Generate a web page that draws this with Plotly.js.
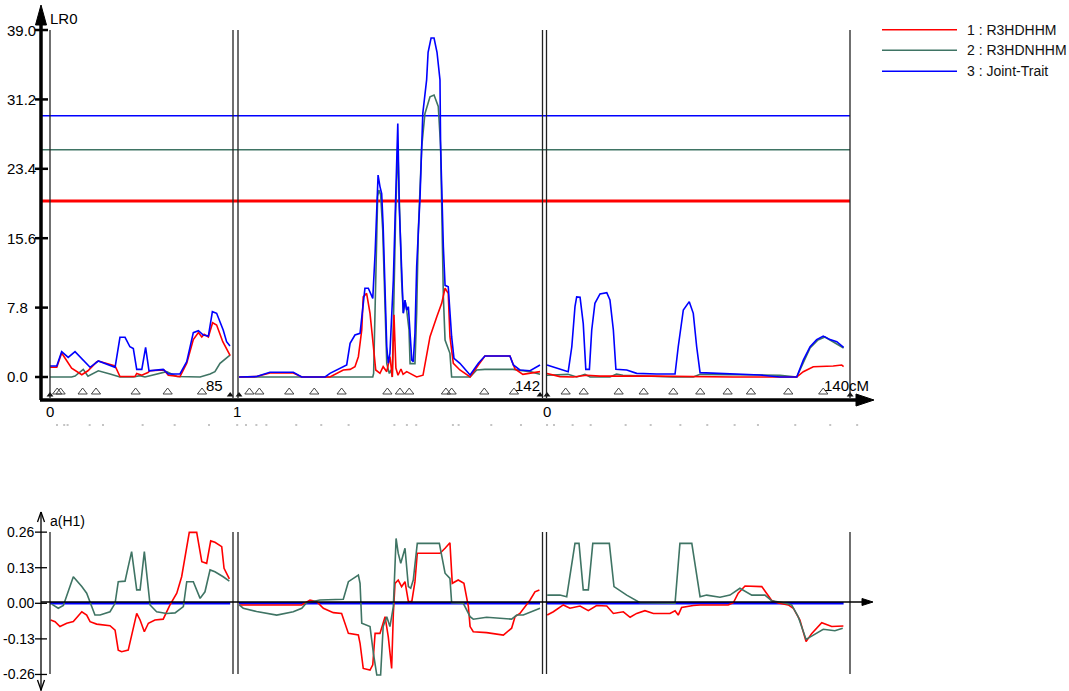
<!DOCTYPE html>
<html><head><meta charset="utf-8">
<script src="https://cdn.plot.ly/plotly-3.0.1.min.js"></script>
<style>html,body{margin:0;padding:0;background:#fff;overflow:hidden}#chart{width:1069px;height:691px}</style>
</head><body><div id="chart"></div>
<script>
// ================= DATA =================
const chromLabels = ['0', '1', '0'];
const chromLength = [85, 142, 140];
const chromEndLabels = ['85', '142', '140cM'];
const traitNames = ['1 : R3HDHHM', '2 : R3HDNHHM', '3 : Joint-Trait'];
const lrTicks = [0.0, 7.8, 15.6, 23.4, 31.2, 39.0];
const lrTickLabels = ['0.0', '7.8', '15.6', '23.4', '31.2', '39.0'];
const effTicks = [-0.26, -0.13, 0, 0.13, 0.26];
const effTickLabels = ['-0.26', '-0.13', '0.00', '0.13', '0.26'];
const lrThresholds = [19.78, 25.55, 29.37];   // trait 1, 2, 3

// marker positions (cM) per chromosome
const markers1 = [0, 3.4, 5.0, 15.4, 21.7, 40.4, 55.5, 71.7, 85];
const markers2 = [0, 4.9, 9.6, 23.7, 35.5, 48.4, 70.0, 75.9, 80.3, 97.6, 100.3, 115.7, 129.7, 142];
const markers3 = [0, 8.8, 17.3, 33.8, 45.6, 59.6, 72.3, 85.2, 96.2, 113.8, 130.3, 143];

// LR profiles [cM, LR]
const lrT1_c1 = [[0,1.1],[3.2,1.1],[5.5,2.7],[7.9,1.9],[10.2,1.0],[15.0,0.25],[17.9,0.7],[22.0,1.7],[22.8,1.8],[30.7,1.24],[33.0,0.05],[40.1,0.05],[40.9,0.4],[43.3,0.2],[46.2,0.5],[47.2,0.71],[53.8,0.79],[55.8,0.2],[61.3,0.05],[64.5,1.54],[67.6,4.2],[70.0,5.0],[71.6,4.5],[72.7,4.8],[74.7,4.5],[76.7,6.1],[78.6,5.85],[81.5,3.97],[84.6,2.47],[85,2.4]];
const lrT2_c1 = [[0,0],[10.2,0],[11.8,0.1],[15.7,0.86],[17.9,0.1],[22.8,0.7],[28.3,0.34],[33.0,0],[39.2,0],[42.5,0.15],[44.8,0],[55.0,0.6],[59.8,0.05],[70.8,0],[75.5,0.34],[77.8,0.6],[80.2,1.54],[84.9,2.47]];
const lrT3_c1 = [[0,1.24],[3.2,1.24],[5.5,2.85],[8.6,2.2],[11.8,2.85],[16.5,1.72],[18.9,1.09],[22.8,1.8],[30.7,1.09],[33.0,4.46],[35.4,4.46],[37.7,3.4],[39.3,3.2],[40.9,0.86],[43.3,0.86],[45.1,3.33],[46.7,0.7],[53.4,0.86],[55.8,0.34],[61.3,0.34],[64.5,1.72],[67.6,4.98],[70.0,5.2],[72.3,4.72],[74.7,4.6],[76.6,7.34],[78.6,7.16],[81.7,5.28],[83.3,3.97],[84.9,3.48]];

const lrT1_c2 = [[0,0],[8.3,0.05],[14.6,0.45],[25.6,0.45],[29.6,0],[42.9,0],[49.2,0.79],[52.4,0.86],[54.7,1.16],[56.3,2.28],[57.9,5.28],[58.6,9.0],[60.2,9.4],[61.8,7.16],[63.4,3.4],[64.5,0.79],[66.5,0.41],[68.0,1.16],[69.7,0.6],[71.2,2.28],[72.3,0],[73.1,7.0],[74.0,1.0],[75.0,0.2],[76.4,0.9],[77.4,0.3],[79.1,0.6],[80.7,0.4],[83.8,0],[86.8,0.2],[88.5,2.66],[90.1,4.53],[93.3,6.78],[95.6,8.28],[97.2,9.97],[98.7,9.4],[99.5,4.53],[101.1,1.54],[104.2,0.79],[109.0,0],[112.9,1.35],[116.0,2.36],[127.8,2.36],[130.2,0.9],[133.9,0.3],[137.3,0.4],[142,0.6]];
const lrT2_c2 = [[0,0],[63.1,0],[63.5,0.4],[63.9,5.3],[64.5,12.4],[65.4,20.3],[66.0,21.0],[66.8,20.5],[67.8,16.5],[68.9,9.0],[69.7,1.5],[70.9,0.4],[71.7,0.8],[72.3,0],[73.1,10.9],[73.9,18.4],[74.9,25.9],[75.2,24],[75.9,17.6],[76.7,10.9],[77.5,7.2],[78.3,8.6],[79.1,7.5],[80.2,5.3],[80.7,1.5],[83.0,1.5],[83.8,7.2],[84.6,16.5],[86.2,25.9],[87.7,29.6],[90.1,31.5],[92.0,31.7],[94.0,30.4],[95.1,25.9],[95.9,16.5],[96.4,9.0],[97.2,4.16],[99.5,2.66],[100.3,0],[109.0,0],[112.1,0.79],[116.0,0.86],[129.2,0.86],[137.3,0.6],[142,0.3]];
const lrT3_c2 = [[0,0],[8.3,0.05],[14.6,0.53],[25.6,0.53],[29.6,0],[40.6,0],[42.9,0.41],[50.8,1.35],[52.4,3.79],[54.7,4.72],[57.1,4.91],[58.4,7.53],[59.4,9.97],[61.0,9.97],[63.1,8.84],[64.2,13.9],[65.0,20.27],[65.6,22.7],[66.5,21.4],[67.3,20.6],[68.0,16.9],[68.9,10.9],[69.7,3.4],[70.4,1.54],[71.2,2.66],[72.8,10.9],[73.6,18.4],[74.4,24.76],[74.9,28.5],[75.6,19.1],[76.7,10.9],[77.5,7.16],[78.3,8.65],[79.1,7.53],[79.9,7.9],[80.7,4.16],[81.5,1.9],[82.2,1.72],[83.0,4.91],[83.8,12.4],[85.4,20.27],[86.7,29.64],[88.5,33.4],[89.2,36.5],[90.6,38.1],[92.0,38.1],[93.4,36.5],[94.8,33.4],[95.1,25.9],[96.4,14.6],[97.2,10.3],[98.7,10.15],[100.3,4.53],[101.4,2.1],[104.2,1.54],[109.0,0.22],[112.9,1.54],[116.0,2.36],[127.8,2.36],[129.4,1.35],[132.5,0.79],[137.3,0.7],[142,1.35]];

const lrT1_c3 = [[0,0.4],[6.1,0.04],[12.4,0],[18.7,0.2],[25.0,0.1],[50.0,0.1],[88.0,0],[117.8,0],[120.9,0.6],[125.6,1.16],[135.0,1.24],[139.0,1.35],[139.9,1.16]];
const lrT2_c3 = [[0,0.2],[9.9,0.3],[14.0,0],[17.9,0.3],[20.3,0],[29.7,0],[32.8,0.34],[35.8,0.2],[59.4,0],[69.0,0],[72.2,0.3],[109.9,0.2],[117.8,0],[120.9,1.7],[124.1,3.26],[127.8,4.16],[131.1,4.5],[139.9,3.26]];
const lrT3_c3 = [[0,1.35],[4.6,0.98],[10.0,0.6],[11.7,3.4],[13.2,7.9],[14.0,9.0],[15.6,8.96],[17.1,6.0],[18.3,0.86],[20.0,0.86],[21.1,5.28],[22.6,8.28],[25.0,9.33],[28.2,9.48],[29.7,8.65],[31.3,5.28],[32.5,0.86],[37.6,0.79],[42.3,0.41],[51.7,0.34],[60.4,0.34],[61.9,3.4],[64.3,7.53],[67.1,8.47],[69.0,7.16],[70.6,3.4],[72.2,0.49],[100.5,0.22],[109.9,0],[117.8,0],[120.9,1.9],[124.1,3.4],[127.2,4.2],[130.3,4.6],[133.5,4.2],[136.7,3.97],[139.9,3.33]];

// additive effects a(H1) [cM, a]
const effT1_c1 = [[0.3,-0.061],[2.4,-0.067],[4.7,-0.085],[7.9,-0.073],[11.0,-0.067],[15.0,-0.031],[17.3,-0.043],[18.9,-0.067],[22.0,-0.076],[28.3,-0.082],[30.7,-0.098],[32.2,-0.171],[33.8,-0.177],[36.9,-0.171],[40.9,-0.037],[42.5,-0.061],[44.5,-0.104],[46.4,-0.073],[49.5,-0.061],[53.4,-0.058],[56.6,-0.006],[59.8,0.037],[62.1,0.097],[64.5,0.207],[65.7,0.259],[69.2,0.259],[71.6,0.152],[73.9,0.146],[75.8,0.228],[77.8,0.223],[81.0,0.207],[82.1,0.128],[84.6,0.089]];
const effT2_c1 = [[0.8,-0.003],[3.9,-0.018],[6.3,-0.008],[11.0,0.097],[15.0,0.061],[17.3,0.037],[21.2,-0.043],[23.6,-0.043],[28.3,-0.031],[30.7,0],[32.2,0.079],[35.4,0.081],[36.9,0.134],[38.5,0.189],[40.9,0.049],[42.5,0.049],[44.5,0.189],[47.2,-0.006],[50.3,-0.031],[55.0,-0.037],[59.0,-0.035],[62.9,-0.012],[64.5,0.079],[67.6,0.079],[70.8,0.018],[73.1,0.042],[75.5,0.122],[77.8,0.115],[81.7,0.097],[84.6,0.081]];
const effT1_c2 = [[0.1,-0.006],[19.3,-0.006],[29.6,-0.006],[33.5,0.012],[36.7,0.006],[39.8,-0.018],[44.5,-0.034],[48.4,-0.037],[51.6,-0.11],[56.3,-0.116],[57.1,-0.146],[58.6,-0.238],[61.8,-0.244],[63.1,-0.225],[64.2,-0.11],[66.5,-0.11],[68.9,-0.049],[70.4,-0.122],[72.0,-0.238],[72.8,-0.037],[73.6,0.073],[75.1,0.085],[76.7,0.061],[78.3,0.079],[79.9,0.006],[81.5,0.006],[83.0,0.079],[84.1,0.183],[94.8,0.183],[97.2,0.201],[99.5,0.221],[100.6,0.073],[103.4,0.085],[106.1,0.073],[108.2,-0.012],[109.0,-0.085],[110.5,-0.104],[116.8,-0.107],[124.7,-0.116],[128.6,-0.091],[130.2,-0.049],[132.5,-0.037],[137.3,0.012],[139.6,0.042],[141.7,0.049]];
const effT2_c2 = [[0.1,-0.006],[2.0,-0.018],[8.3,-0.03],[17.8,-0.043],[25.6,-0.031],[29.6,-0.018],[31.9,0.002],[35.0,0.006],[38.2,0.012],[49.2,0.015],[51.6,0.079],[56.3,0.103],[57.1,0.073],[57.9,-0.073],[61.8,-0.085],[63.4,-0.183],[65.0,-0.262],[66.8,-0.262],[68.0,-0.085],[69.7,-0.049],[71.2,-0.085],[72.8,-0.012],[74.1,0.237],[75.1,0.183],[76.3,0.146],[78.3,0.201],[79.9,0.061],[81.0,0.055],[82.2,0.085],[84.1,0.219],[94.5,0.219],[97.2,0.11],[99.5,0.091],[100.3,0.002],[105.8,0],[109.0,-0.049],[110.5,-0.058],[116.8,-0.051],[128.6,-0.058],[131.0,-0.043],[134.1,-0.043],[142,-0.018]];
const effT1_c3 = [[0.1,-0.043],[3.0,-0.031],[7.7,-0.006],[10.8,-0.018],[15.6,-0.01],[19.5,-0.027],[23.4,-0.008],[28.2,-0.01],[31.3,-0.037],[36.0,-0.031],[39.2,-0.051],[42.3,-0.037],[46.2,-0.027],[50.2,-0.037],[58.0,-0.037],[60.4,-0.027],[61.9,-0.043],[63.5,-0.015],[69.0,-0.008],[72.2,-0.006],[85.5,-0.006],[87.9,0.002],[90.2,0.037],[93.4,0.063],[101.3,0.061],[103.6,0.037],[106.0,0.01],[109.1,0.001],[113.8,-0.006],[116.2,-0.018],[119.3,-0.061],[122.2,-0.14],[124.9,-0.11],[129.6,-0.071],[134.3,-0.085],[139.8,-0.083]];
const effT2_c3 = [[0.1,0.03],[6.1,0.03],[9.3,0.024],[11.7,0.146],[13.2,0.219],[15.1,0.219],[17.1,0.049],[19.5,0.049],[21.6,0.219],[29.4,0.219],[31.6,0.061],[37.6,0.03],[43.9,0.002],[60.4,0],[62.7,0.219],[68.3,0.219],[70.6,0.097],[72.2,0.024],[75.3,0.03],[81.6,0.022],[86.3,0.03],[91.0,0.055],[96.6,0.03],[102.8,0.03],[106.0,0.009],[111.5,0.002],[115.4,-0.006],[118.5,-0.049],[122.2,-0.132],[125.6,-0.116],[130.3,-0.095],[135.8,-0.1],[139.5,-0.091]];
const effT3_c1 = [[0,0],[85,0]];
const effT3_c2 = [[0,0],[142,0]];
const effT3_c3 = [[0,0],[139.9,0]];

// ================= LAYOUT GEOMETRY =================
const W = 1069, H = 691;
const PX_PER_CM = 2.12, ORIGIN_PX = 50;
const chromStartPx = [50, 239, 547];
const chromOffset = chromStartPx.map(p => (p - ORIGIN_PX) / PX_PER_CM);
const TOP_ZERO_PX = 377, TOP_PX_PER = 8.897;
const BOT_ZERO_PX = 603.3, BOT_PX_PER = 273.7;
const colors = ['#FF0000', '#3F7464', '#0000FF'];
const FONT = 'Arial, "Liberation Sans", sans-serif';

const px = p => p / W;
const py = p => 1 - p / H;
const topVal = p => (TOP_ZERO_PX - p) / TOP_PX_PER;

function seriesXY(chunks) {
  const x = [], y = [];
  chunks.forEach((pts, c) => {
    if (c > 0) { x.push(null); y.push(null); }
    pts.forEach(([pos, v]) => { x.push(chromOffset[c] + pos); y.push(v); });
  });
  return {x, y};
}

const lrSeries = [[lrT1_c1, lrT1_c2, lrT1_c3], [lrT2_c1, lrT2_c2, lrT2_c3], [lrT3_c1, lrT3_c2, lrT3_c3]];
const effSeries = [[effT1_c1, effT1_c2, effT1_c3], [effT2_c1, effT2_c2, effT2_c3], [effT3_c1, effT3_c2, effT3_c3]];
const drawOrder = [1, 0, 2];

const traces = [];
drawOrder.forEach(t => {
  const s = seriesXY(lrSeries[t]);
  traces.push({type: 'scatter', mode: 'lines', x: s.x, y: s.y, xaxis: 'x', yaxis: 'y',
    line: {color: colors[t], width: 1.6}, connectgaps: false, hoverinfo: 'skip', name: traitNames[t]});
});
[2, 0, 1].forEach(t => {
  const s = seriesXY(effSeries[t]);
  traces.push({type: 'scatter', mode: 'lines', x: s.x, y: s.y, xaxis: 'x2', yaxis: 'y2',
    line: {color: colors[t], width: t === 2 ? 2.6 : 1.6}, connectgaps: false, hoverinfo: 'skip', name: traitNames[t]});
});

// marker triangles along the chromosome axis
const allMarkers = [markers1, markers2, markers3];
const mx = [], mxEnd = [];
allMarkers.forEach((m, c) => m.forEach((pos, i) => {
  const xv = chromOffset[c] + pos;
  if (i === 0 || i === m.length - 1) mxEnd.push(xv); else mx.push(xv);
}));
traces.push({type: 'scatter', mode: 'markers', x: mx, y: mx.map(() => topVal(392)), xaxis: 'x', yaxis: 'y',
  marker: {symbol: 'triangle-up-open', size: 8, color: '#444', line: {width: 1, color: '#444'}}, cliponaxis: false, hoverinfo: 'skip'});
traces.push({type: 'scatter', mode: 'markers', x: mxEnd, y: mxEnd.map(() => topVal(395)), xaxis: 'x', yaxis: 'y',
  marker: {symbol: 'triangle-up', size: 6, color: '#111'}, cliponaxis: false, hoverinfo: 'skip'});
const dotX = mx.concat(mxEnd).map(v => v + 3.3);
traces.push({type: 'scatter', mode: 'markers', x: dotX, y: dotX.map(() => topVal(425)), xaxis: 'x', yaxis: 'y',
  marker: {symbol: 'square', size: 2, color: '#c4c4c4'}, cliponaxis: false, hoverinfo: 'skip'});

// ================= SHAPES / ANNOTATIONS =================
const shapes = [];
const annotations = [];
const line = (x0, y0, x1, y1, color, width) => shapes.push({type: 'line', xref: 'paper', yref: 'paper',
  x0: px(x0), y0: py(y0), x1: px(x1), y1: py(y1), line: {color, width}});
const poly = (pts, color) => shapes.push({type: 'path', xref: 'paper', yref: 'paper',
  path: 'M' + pts.map(p => px(p[0]) + ',' + py(p[1])).join(' L') + ' Z', fillcolor: color, line: {color, width: 1}});
const text = (t, x, y, xanchor, size, color) => annotations.push({text: t, xref: 'paper', yref: 'paper',
  x: px(x), y: py(y), xanchor: xanchor || 'left', yanchor: 'middle', showarrow: false,
  font: {family: FONT, size: size || 14, color: color || '#000'}});

// thresholds
lrThresholds.forEach((v, t) => shapes.push({type: 'line', xref: 'paper', yref: 'y', x0: px(40), x1: px(850), y0: v, y1: v,
  line: {color: colors[t], width: t === 0 ? 3 : 1.5}, layer: 'below'}));

// chromosome boundary lines
[50, 233, 238, 542.5, 546.5, 850].forEach(p => { line(p, 30, p, 398, '#222', 1.3); line(p, 532, p, 674, '#222', 1.3); });

// top axes
line(41, 18, 41, 400, '#000', 3.5);
poly([[41, 5], [35.5, 25], [46.5, 25]], '#000');
line(40, 400, 860, 400, '#000', 3.5);
poly([[874, 400], [856, 394], [856, 406]], '#000');
lrTicks.forEach((v, i) => {
  const p = TOP_ZERO_PX - v * TOP_PX_PER;
  line(35, p, 48, p, '#000', 2.5);
  text(lrTickLabels[i], 5, p, 'left', 15);
});
text('LR0', 48, 18, 'left', 15);

// bottom axes
line(41, 512, 41, 691, '#000', 1.3);
line(37.5, 522, 41, 512, '#000', 1.3); line(44.5, 522, 41, 512, '#000', 1.3);
line(37.5, 680, 41, 690, '#000', 1.3); line(44.5, 680, 41, 690, '#000', 1.3);
line(41, 602, 866, 602, '#000', 1.3);
poly([[873, 602], [862, 598.5], [862, 605.5]], '#000');
effTicks.forEach((v, i) => {
  const p = BOT_ZERO_PX - v * BOT_PX_PER;
  line(35, p, 47, p, '#000', 1.3);
  text(effTickLabels[i], effTicks[i] < 0 ? 1 : 5, p, 'left', 14);
});
text('a(H1)', 48, 521, 'left', 14);

// chromosome labels
const startLabelPx = [50, 237, 546.5];
chromLabels.forEach((l, c) => text(l, startLabelPx[c], 411, 'center', 15));
const endLabelPx = [225, 542, 871];
chromEndLabels.forEach((l, c) => text(l, endLabelPx[c], 385.5, 'right', 15));

// legend
[29.7, 50.3, 71.3].forEach((yy, t) => {
  line(882, yy, 957, yy, colors[t], 1.5);
  text(traitNames[t], 965, yy, 'left', 14, '#111');
});

const xRange = [-ORIGIN_PX / PX_PER_CM, (W - ORIGIN_PX) / PX_PER_CM];
const layout = {
  width: W, height: H, margin: {l: 0, r: 0, t: 0, b: 0}, paper_bgcolor: '#fff', plot_bgcolor: 'rgba(0,0,0,0)',
  showlegend: false,
  xaxis: {domain: [0, 1], range: xRange, visible: false, anchor: 'y'},
  yaxis: {domain: [1 - 440 / H, 1], range: [(TOP_ZERO_PX - 440) / TOP_PX_PER, TOP_ZERO_PX / TOP_PX_PER], visible: false, anchor: 'x'},
  xaxis2: {domain: [0, 1], range: xRange, visible: false, anchor: 'y2'},
  yaxis2: {domain: [0, 1 - 450 / H], range: [(BOT_ZERO_PX - H) / BOT_PX_PER, (BOT_ZERO_PX - 450) / BOT_PX_PER], visible: false, anchor: 'x2'},
  shapes, annotations
};
Plotly.newPlot('chart', traces, layout, {staticPlot: true, displayModeBar: false});
</script></body></html>
